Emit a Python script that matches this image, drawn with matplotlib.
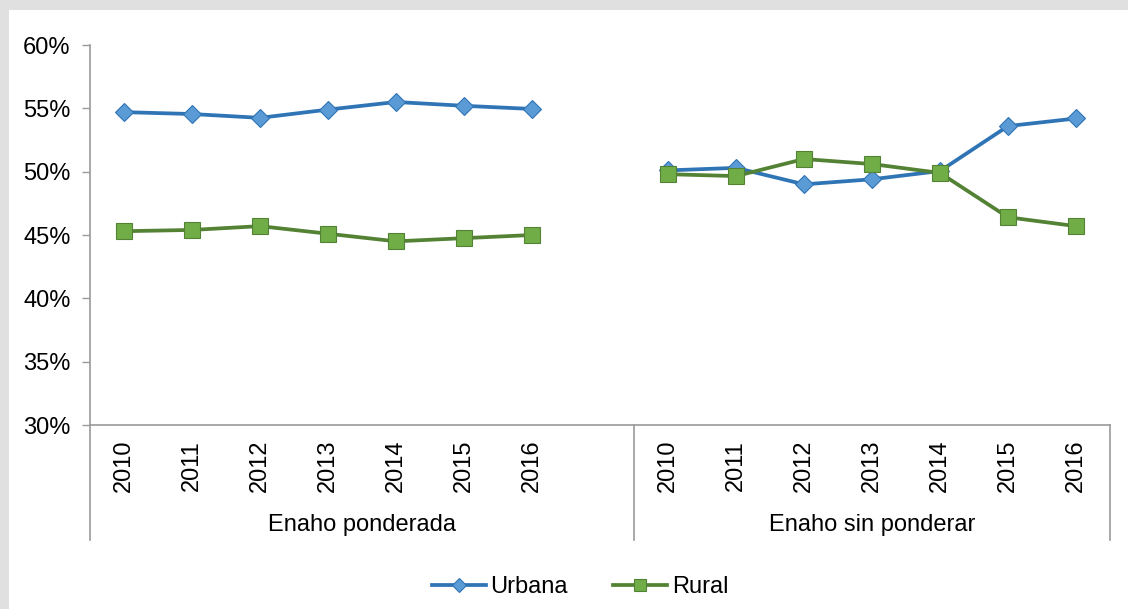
import matplotlib
matplotlib.use("Agg")
import matplotlib.pyplot as plt
from matplotlib.patches import Rectangle

plt.rcParams['font.family'] = ['Liberation Sans', 'DejaVu Sans']

years = ['2010', '2011', '2012', '2013', '2014', '2015', '2016']
groups = ['Enaho ponderada', 'Enaho sin ponderar']
series_names = ['Urbana', 'Rural']

urbana_pond = [54.7, 54.55, 54.25, 54.9, 55.5, 55.2, 54.95]
rural_pond = [45.3, 45.4, 45.7, 45.1, 44.5, 44.75, 45.0]
urbana_sin = [50.1, 50.3, 49.0, 49.4, 50.05, 53.6, 54.2]
rural_sin = [49.8, 49.65, 51.0, 50.6, 49.9, 46.4, 45.7]

yticks = [30, 35, 40, 45, 50, 55, 60]

FS = 17
W, H = 1128, 609
fig = plt.figure(figsize=(W / 100, H / 100), dpi=100)
fig.patch.set_facecolor('#E0E0E0')
fig.patches.append(Rectangle((9 / W, 0), 1, 1 - 10 / H, transform=fig.transFigure,
                             facecolor='white', edgecolor='none', zorder=-10))

ax = fig.add_axes([90 / W, (H - 425) / H, (1110 - 90) / W, (425 - 45) / H])
ax.set_facecolor('none')

blue_line, blue_fill = '#2F74B5', '#5B9BD5'
green_line, green_fill = '#548235', '#70AD47'

x1 = list(range(len(years)))
x2 = [i + len(years) + 1 for i in range(len(years))]

style_u = dict(color=blue_line, lw=2.7, marker='D', markersize=9.2,
               markerfacecolor=blue_fill, markeredgecolor=blue_line, markeredgewidth=0.8)
style_r = dict(color=green_line, lw=2.7, marker='s', markersize=11.5,
               markerfacecolor=green_fill, markeredgecolor=green_line, markeredgewidth=0.8)

ax.plot(x1, urbana_pond, label=series_names[0], zorder=3, **style_u)
ax.plot(x1, rural_pond, label=series_names[1], zorder=3, **style_r)
ax.plot(x2, urbana_sin, zorder=3, **style_u)
ax.plot(x2, rural_sin, zorder=4, **style_r)

ax.set_xlim(-0.5, 14.5)
ax.set_ylim(30, 60)
ax.set_yticks(yticks)
ax.set_yticklabels([f'{v}%' for v in yticks], fontsize=FS)
ax.tick_params(axis='y', direction='out', length=6, width=1, color='#9A9A9A', pad=8)
ax.set_xticks([])
for s in ['top', 'right']:
    ax.spines[s].set_visible(False)
for s in ['left', 'bottom']:
    ax.spines[s].set_color('#9A9A9A')
    ax.spines[s].set_linewidth(1.2)

xt = ax.get_xaxis_transform()
for xs in (x1, x2):
    for xi, yr in zip(xs, years):
        ax.text(xi, -0.108, yr, rotation=90, ha='center', va='center',
                fontsize=FS, transform=xt, clip_on=False)

ax.text((x1[0] - 0.5 + x2[0] - 0.5) / 2, -0.263, groups[0], ha='center', va='center',
        fontsize=FS, transform=xt, clip_on=False)
ax.text((x2[0] - 0.5 + x2[-1] + 0.5) / 2, -0.263, groups[1], ha='center', va='center',
        fontsize=FS, transform=xt, clip_on=False)

for xv in (x1[0] - 0.5, x2[0] - 0.5, x2[-1] + 0.5):
    ax.plot([xv, xv], [0, -0.303], color='#9A9A9A', lw=1.2, transform=xt, clip_on=False)

fig.legend(loc='center', bbox_to_anchor=(580 / W, 22 / H), ncol=2, frameon=False,
           fontsize=FS, handlelength=2.3, handletextpad=0.2, columnspacing=1.9,
           markerscale=0.8)

fig.savefig('out.png', dpi=100, facecolor=fig.get_facecolor())
